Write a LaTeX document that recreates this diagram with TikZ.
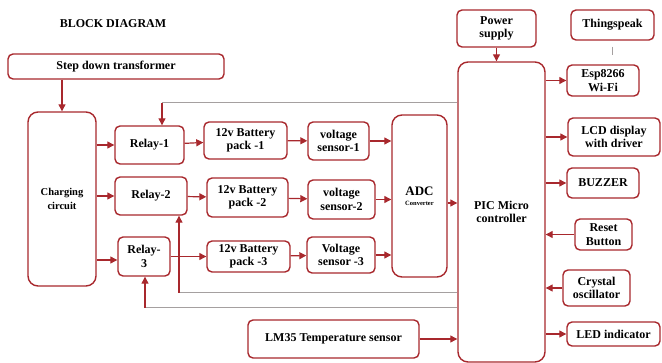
\documentclass[tikz,border=0pt]{standalone}
\usepackage{fontspec}
\setmainfont{Liberation Serif}
\usepackage{xcolor}
\usetikzlibrary{arrows.meta,positioning}
\definecolor{boxred}{RGB}{168,40,45}
\definecolor{fbgray}{RGB}{165,160,160}

\begin{document}
\begin{tikzpicture}[
  x=1pt,y=-1pt,
  blk/.style={draw=boxred,line width=1.4pt,rounded corners=5pt,fill=white,align=center,
    inner sep=1pt,font=\bfseries\fontsize{12}{13.5}\selectfont},
  tall/.style={blk,rounded corners=10pt},
  arr/.style={-{Triangle[length=7pt,width=7pt]},draw=boxred,line width=1.2pt},
  fbk/.style={draw=fbgray,line width=1pt}
]
\useasboundingbox (0,0) rectangle (662,363);
\node[font=\bfseries\fontsize{12}{13}\selectfont] (title) at (113,24) {BLOCK DIAGRAM};
% supply side
\node[blk,minimum width=216pt,minimum height=25pt] (sdt) at (116,66.5) {Step down transformer};
\node[tall,minimum width=68pt,minimum height=174pt,font=\bfseries\fontsize{10.5}{14}\selectfont] (chg) at (62,199) {Charging\\circuit};
% relays
\node[blk,minimum width=69pt,minimum height=38pt] (r1) at (149.5,145) {Relay-1};
\node[blk,minimum width=72pt,minimum height=38pt] (r2) at (151,196) {Relay-2};
\node[blk,minimum width=52pt,minimum height=39pt] (r3) at (144,256.5) {Relay-\\3};
% batteries
\node[blk,minimum width=83pt,minimum height=37pt] (b1) at (245.5,140.5) {12v Battery\\pack -1};
\node[blk,minimum width=81pt,minimum height=39pt] (b2) at (247.5,197.5) {12v Battery\\pack -2};
\node[blk,minimum width=83pt,minimum height=31pt] (b3) at (248.5,256.5) {12v Battery\\pack -3};
% sensors
\node[blk,minimum width=61pt,minimum height=38pt] (v1) at (338.5,141) {voltage\\sensor-1};
\node[blk,minimum width=67pt,minimum height=39pt] (v2) at (341.5,199.5) {voltage\\sensor-2};
\node[blk,minimum width=68pt,minimum height=36pt] (v3) at (341,255) {Voltage\\sensor -3};
\node[tall,minimum width=55pt,minimum height=162pt] (adc) at (419.5,196)
  {\fontsize{13}{14}\selectfont ADC\\[-3pt]\fontsize{6.5}{7}\selectfont Converter};
% controller
\node[tall,minimum width=87pt,minimum height=300pt] (pic) at (501.5,212) {PIC Micro\\controller};
\node[blk,minimum width=79pt,minimum height=37pt] (ps) at (496.5,28.5) {Power\\supply};
\node[blk,minimum width=171pt,minimum height=38pt] (lm35) at (333.5,339) {LM35 Temperature sensor};
% peripherals
\node[blk,minimum width=83pt,minimum height=30pt] (ts) at (612.5,25) {Thingspeak};
\node[blk,minimum width=72pt,minimum height=31pt] (esp) at (603,80.5) {Esp8266\\Wi-Fi};
\node[blk,minimum width=92pt,minimum height=38pt] (lcd) at (614,137) {LCD display\\with driver};
\node[blk,minimum width=72pt,minimum height=30pt] (buz) at (603,183) {BUZZER};
\node[blk,minimum width=57pt,minimum height=31pt] (rst) at (603.5,234.5) {Reset\\Button};
\node[blk,minimum width=67pt,minimum height=36pt] (xtal) at (596.5,288) {Crystal\\oscillator};
\node[blk,minimum width=93pt,minimum height=24pt] (led) at (613.5,334) {LED indicator};
% feedback lines
\coordinate (f1) at (162,103);
\coordinate (f2) at (179,293);
\coordinate (f3) at (145,308);
\draw[fbk] (pic.west |- f1) -- (f1);
\draw[fbk] (pic.west |- f2) -- (f2);
\draw[fbk] (pic.west |- f3) -- (f3);
\draw[arr] (f1) -- (f1 |- r1.north);
\draw[arr] (f2) -- (f2 |- r2.south);
\draw[arr] (f3) -- (f3 |- r3.south);
% connectors
\draw[arr] (sdt.south -| chg) -- (chg.north);
\draw[arr] (chg.east |- r1.west) -- (r1.west);
\draw[arr] (chg.east |- r2.west) -- (r2.west);
\draw[arr] (chg.east |- 0,260) -- (r3.west |- 0,260);
\draw[arr] (r1) -- (b1);
\draw[arr] (r2) -- (b2);
\draw[arr] (r3) -- (b3);
\draw[arr] (b1) -- (v1);
\draw[arr] (b2) -- (v2);
\draw[arr] (b3) -- (v3);
\draw[arr] (v1.east) -- (v1.east -| adc.west);
\draw[arr] (v2.east) -- (v2.east -| adc.west);
\draw[arr] (v3.east) -- (v3.east -| adc.west);
\draw[arr] (adc.east |- 0,203) -- (pic.west |- 0,203);
\draw[arr] (ps.south) -- (ps.south |- pic.north);
\draw[arr] (lm35.east) -- (lm35.east -| pic.west);
\draw[fbk,shorten <=6pt,shorten >=9pt] (ts.south) -- (ts.south |- esp.north);
\draw[arr] (pic.east |- esp.west) -- (esp.west);
\draw[arr] (pic.east |- lcd.west) -- (lcd.west);
\draw[arr] (pic.east |- buz.west) -- (buz.west);
\draw[arr] (rst.west) -- (rst.west -| pic.east);
\draw[arr] (xtal.west) -- (xtal.west -| pic.east);
\draw[arr] (pic.east |- led.west) -- (led.west);
\end{tikzpicture}
\end{document}
